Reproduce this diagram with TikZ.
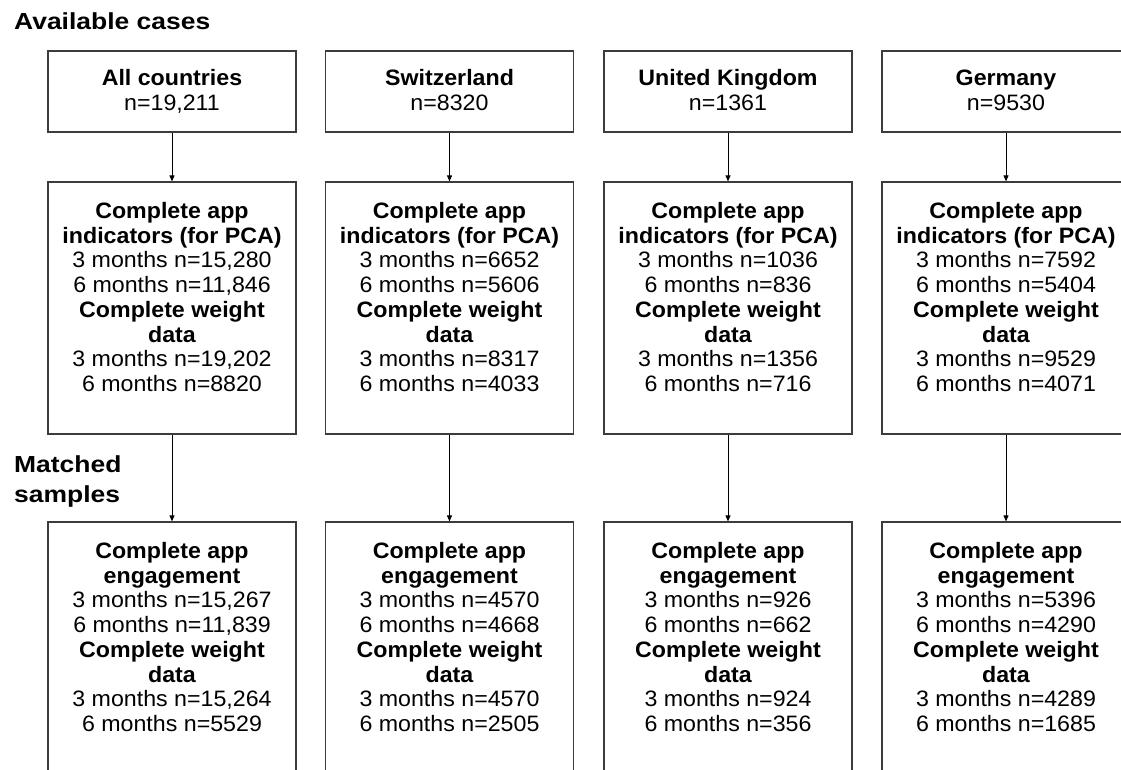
\documentclass[tikz,border=0pt]{standalone}
\usepackage{fontspec}
\setmainfont{Liberation Sans}[FakeStretch=1.04]
\newfontfamily\headfont{Liberation Sans}[FakeStretch=1.14]
\usetikzlibrary{arrows.meta}
\definecolor{boxline}{HTML}{3C3C3C}
\newcommand{\bodyfs}{\fontsize{22.3}{24.7}\selectfont}
\newcommand{\headfs}{\headfont\fontsize{23.2}{30.5}\selectfont\bfseries}
\newcommand{\ctab}[1]{\begin{tabular}[t]{@{}c@{}}#1\end{tabular}}
\begin{document}
\begin{tikzpicture}[x=1pt,y=-1pt,
  box/.style={draw=boxline, line width=1.2pt, rectangle, inner sep=0pt, minimum width=248pt},
  txt/.style={anchor=base, inner sep=0pt, font=\bodyfs, text=black},
  head/.style={anchor=base west, inner sep=0pt, font=\headfs, text=black},
  arr/.style={draw=black, line width=0.9pt, -{Triangle[length=6pt,width=5pt]}}]
\useasboundingbox (0,0) rectangle (1121,769);
\clip (0,0) rectangle (1121,769);

% headings
\node[head] (hA) at (14,29) {Available cases};
\node[head] (hM) at (14,472) {\begin{tabular}[t]{@{}l@{}}Matched\\samples\end{tabular}};

% row 1 boxes
\node[box, minimum height=81pt] (b1a) at (172,91.5) {};
\node[box, minimum height=81pt] (b1b) at (449.5,91.5) {};
\node[box, minimum height=81pt] (b1c) at (728,91.5) {};
\node[box, minimum height=81pt] (b1d) at (1006,91.5) {};

\node[txt] (t1a) at (172,85.5) {\ctab{\textbf{All countries}\\n=19,211}};
\node[txt] (t1b) at (449.5,85.5) {\ctab{\textbf{Switzerland}\\n=8320}};
\node[txt] (t1c) at (728,85.5) {\ctab{\textbf{United Kingdom}\\n=1361}};
\node[txt] (t1d) at (1006,85.5) {\ctab{\textbf{Germany}\\n=9530}};

% row 2 boxes
\node[box, minimum height=252pt] (b2a) at (172,308) {};
\node[box, minimum height=252pt] (b2b) at (449.5,308) {};
\node[box, minimum height=252pt] (b2c) at (728,308) {};
\node[box, minimum height=252pt] (b2d) at (1006,308) {};

\node[txt] (t2a) at (172,218.5) {\ctab{\textbf{Complete app}\\\textbf{indicators (for PCA)}\\3 months n=15,280\\6 months n=11,846\\\textbf{Complete weight}\\\textbf{data}\\3 months n=19,202\\6 months n=8820}};
\node[txt] (t2b) at (449.5,218.5) {\ctab{\textbf{Complete app}\\\textbf{indicators (for PCA)}\\3 months n=6652\\6 months n=5606\\\textbf{Complete weight}\\\textbf{data}\\3 months n=8317\\6 months n=4033}};
\node[txt] (t2c) at (728,218.5) {\ctab{\textbf{Complete app}\\\textbf{indicators (for PCA)}\\3 months n=1036\\6 months n=836\\\textbf{Complete weight}\\\textbf{data}\\3 months n=1356\\6 months n=716}};
\node[txt] (t2d) at (1006,218.5) {\ctab{\textbf{Complete app}\\\textbf{indicators (for PCA)}\\3 months n=7592\\6 months n=5404\\\textbf{Complete weight}\\\textbf{data}\\3 months n=9529\\6 months n=4071}};

% row 3 boxes (run past the bottom edge)
\node[box, minimum height=278pt] (b3a) at (172,661) {};
\node[box, minimum height=278pt] (b3b) at (449.5,661) {};
\node[box, minimum height=278pt] (b3c) at (728,661) {};
\node[box, minimum height=278pt] (b3d) at (1006,661) {};

\node[txt] (t3a) at (172,558.5) {\ctab{\textbf{Complete app}\\\textbf{engagement}\\3 months n=15,267\\6 months n=11,839\\\textbf{Complete weight}\\\textbf{data}\\3 months n=15,264\\6 months n=5529}};
\node[txt] (t3b) at (449.5,558.5) {\ctab{\textbf{Complete app}\\\textbf{engagement}\\3 months n=4570\\6 months n=4668\\\textbf{Complete weight}\\\textbf{data}\\3 months n=4570\\6 months n=2505}};
\node[txt] (t3c) at (728,558.5) {\ctab{\textbf{Complete app}\\\textbf{engagement}\\3 months n=926\\6 months n=662\\\textbf{Complete weight}\\\textbf{data}\\3 months n=924\\6 months n=356}};
\node[txt] (t3d) at (1006,558.5) {\ctab{\textbf{Complete app}\\\textbf{engagement}\\3 months n=5396\\6 months n=4290\\\textbf{Complete weight}\\\textbf{data}\\3 months n=4289\\6 months n=1685}};

% connectors
\foreach \c in {a,b,c,d}{
  \draw[arr] (b1\c.south) -- (b2\c.north);
  \draw[arr] (b2\c.south) -- (b3\c.north);
}
\end{tikzpicture}
\end{document}
